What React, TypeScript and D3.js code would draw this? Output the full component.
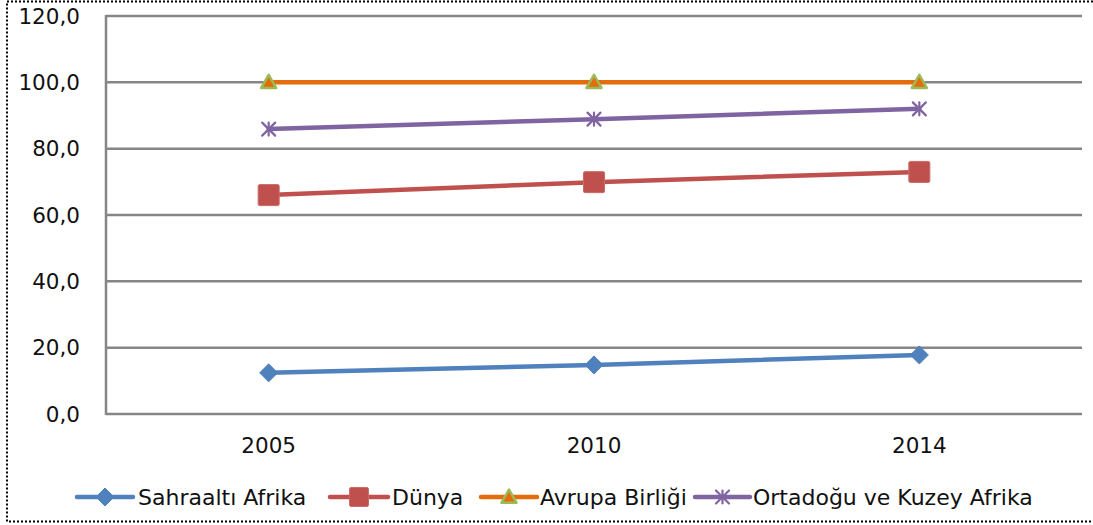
import React, { useEffect, useRef } from "react";
import * as d3 from "d3";

const years = ["2005", "2010", "2014"];
const sahraalti = [12.4, 14.8, 17.8];
const dunya = [66.0, 69.9, 73.0];
const avrupa = [100.0, 100.0, 100.0];
const ortadogu = [85.9, 88.9, 92.0];
const yTicks = [0, 20, 40, 60, 80, 100, 120];

const seriesNames = ["Sahraaltı Afrika", "Dünya", "Avrupa Birliği", "Ortadoğu ve Kuzey Afrika"];
const seriesValues = [sahraalti, dunya, avrupa, ortadogu];
const seriesColors = ["#4F81BD", "#C0504D", "#E46C0A", "#8064A2"];
const markerTypes = ["diamond", "square", "triangle", "star"];

const W = 1093;
const H = 525;
const FONT = "'DejaVu Sans', sans-serif";

function drawMarker(g: any, type: string, x: number, y: number, color: string, scale = 1) {
  if (type === "diamond") {
    const s = 9 * scale;
    g.append("path")
      .attr("d", `M${x},${y - s}L${x + s},${y}L${x},${y + s}L${x - s},${y}Z`)
      .attr("fill", color)
      .attr("stroke", color)
      .attr("stroke-width", 1)
      .attr("stroke-linejoin", "round");
  } else if (type === "square") {
    const s = 10.5 * scale;
    g.append("rect")
      .attr("x", x - s)
      .attr("y", y - s)
      .attr("width", 2 * s)
      .attr("height", 2 * s)
      .attr("rx", 1.5)
      .attr("fill", color)
      .attr("stroke", "#C96B68")
      .attr("stroke-width", 1);
  } else if (type === "triangle") {
    const s = 7.5 * scale;
    g.append("path")
      .attr("d", `M${x},${y - s}L${x + s},${y + s * 0.75}L${x - s},${y + s * 0.75}Z`)
      .attr("fill", color)
      .attr("stroke", "#9BBB59")
      .attr("stroke-width", 2.5)
      .attr("stroke-linejoin", "round");
  } else if (type === "star") {
    const s = 6.5 * scale;
    const p = g.append("g").attr("stroke", color).attr("stroke-width", 2.2).attr("stroke-linecap", "round");
    p.append("line").attr("x1", x - s).attr("y1", y - s).attr("x2", x + s).attr("y2", y + s);
    p.append("line").attr("x1", x - s).attr("y1", y + s).attr("x2", x + s).attr("y2", y - s);
    p.append("line").attr("x1", x).attr("y1", y - s).attr("x2", x).attr("y2", y + s);
  }
}

export default function App() {
  const ref = useRef<SVGSVGElement | null>(null);

  useEffect(() => {
    const svg = d3.select(ref.current);
    svg.selectAll("*").remove();

    const left = 106;
    const right = 1082;
    const top = 16;
    const bottom = 414;

    const x = d3.scalePoint<string>().domain(years).range([left, right]).padding(0.5);
    const y = d3.scaleLinear().domain([0, 120]).range([bottom, top]);

    // border
    svg
      .append("rect")
      .attr("x", 7)
      .attr("y", 1.5)
      .attr("width", 1092)
      .attr("height", 520)
      .attr("fill", "white")
      .attr("stroke", "#000")
      .attr("stroke-width", 2)
      .attr("stroke-dasharray", "2,2");

    // gridlines
    const grid = svg.append("g");
    yTicks.forEach((t) => {
      grid
        .append("line")
        .attr("x1", left)
        .attr("x2", right)
        .attr("y1", y(t))
        .attr("y2", y(t))
        .attr("stroke", "#868686")
        .attr("stroke-width", 2.5);
    });
    grid
      .append("line")
      .attr("x1", left)
      .attr("x2", left)
      .attr("y1", top - 1)
      .attr("y2", bottom + 1)
      .attr("stroke", "#868686")
      .attr("stroke-width", 2.5);

    // y labels
    svg
      .append("g")
      .selectAll("text")
      .data(yTicks)
      .join("text")
      .attr("x", 80)
      .attr("y", (d) => y(d))
      .attr("dy", "0.36em")
      .attr("text-anchor", "end")
      .attr("font-family", FONT)
      .attr("font-size", 21.5)
      .attr("fill", "#111")
      .text((d) => d3.format(".1f")(d).replace(".", ","));

    // x labels
    svg
      .append("g")
      .selectAll("text")
      .data(years)
      .join("text")
      .attr("x", (d) => x(d) as number)
      .attr("y", 445)
      .attr("dy", "0.36em")
      .attr("text-anchor", "middle")
      .attr("font-family", FONT)
      .attr("font-size", 21.5)
      .attr("fill", "#111")
      .text((d) => d);

    // lines
    const line = d3
      .line<number>()
      .x((_, i) => x(years[i]) as number)
      .y((d) => y(d));

    seriesValues.forEach((vals, si) => {
      const g = svg.append("g");
      g.append("path")
        .attr("d", line(vals))
        .attr("fill", "none")
        .attr("stroke", seriesColors[si])
        .attr("stroke-width", 4.5)
        .attr("stroke-linecap", "round")
        .attr("stroke-linejoin", "round");
      vals.forEach((v, i) => {
        drawMarker(g, markerTypes[si], x(years[i]) as number, y(v), seriesColors[si]);
      });
    });

    // legend
    const legendItems = [
      { x1: 77, x2: 133, tx: 138 },
      { x1: 330, x2: 388, tx: 392 },
      { x1: 481, x2: 537, tx: 540 },
      { x1: 695, x2: 750, tx: 753 },
    ];
    const ly = 497;
    const lg = svg.append("g");
    legendItems.forEach((it, si) => {
      lg.append("line")
        .attr("x1", it.x1)
        .attr("x2", it.x2)
        .attr("y1", ly)
        .attr("y2", ly)
        .attr("stroke", seriesColors[si])
        .attr("stroke-width", 4.5)
        .attr("stroke-linecap", "round");
      drawMarker(lg, markerTypes[si], (it.x1 + it.x2) / 2, ly, seriesColors[si], si === 1 ? 0.9 : 1);
      lg.append("text")
        .attr("x", it.tx)
        .attr("y", ly)
        .attr("dy", "0.36em")
        .attr("font-family", FONT)
        .attr("font-size", 22)
        .attr("fill", "#111")
        .text(seriesNames[si]);
    });
  }, []);

  return (
    <svg
      ref={ref}
      width={W}
      height={H}
      style={{ position: "absolute", left: 0, top: 0, background: "white" }}
    />
  );
}
